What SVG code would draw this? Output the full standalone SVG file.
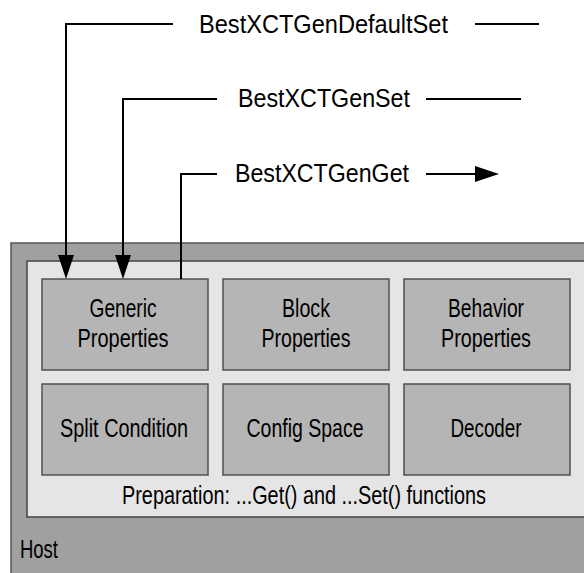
<svg xmlns="http://www.w3.org/2000/svg" width="584" height="573" viewBox="0 0 584 573">
<style>
.lbl{font-family:"Liberation Sans",Arial,sans-serif;font-size:25px;fill:#000}
.nar{font-family:"Liberation Sans Narrow","Liberation Sans",Arial,sans-serif;font-size:25px;fill:#000}
.box{fill:#b5b5b5;stroke:#505050;stroke-width:1.5}
.wire{fill:none;stroke:#000;stroke-width:2}
</style>
<defs>
<marker id="arr" markerUnits="userSpaceOnUse" markerWidth="24" markerHeight="16" viewBox="0 0 24 16" refX="0" refY="8" orient="auto">
<path d="M0,0 L24,8 L0,16 z" fill="#000"/>
</marker>
</defs>
<rect width="584" height="573" fill="#fff"/>
<g id="host">
<rect x="11" y="243" width="590" height="345" fill="#a0a0a0" stroke="#555" stroke-width="1.5"/>
<text class="nar" x="20" y="558" textLength="38" lengthAdjust="spacingAndGlyphs">Host</text>
</g>
<g id="preparation">
<rect x="27" y="261" width="580" height="256" fill="#e5e5e5" stroke="#444" stroke-width="1.5"/>
<text class="nar" x="304" y="504" text-anchor="middle" textLength="364" lengthAdjust="spacingAndGlyphs">Preparation: ...Get() and ...Set() functions</text>
</g>
<g id="generic">
<rect class="box" x="42" y="279" width="166" height="91"/>
<text class="nar" x="123" y="317" text-anchor="middle" textLength="67" lengthAdjust="spacingAndGlyphs">Generic</text>
<text class="nar" x="123" y="347" text-anchor="middle" textLength="91" lengthAdjust="spacingAndGlyphs">Properties</text>
</g>
<g id="block">
<rect class="box" x="223" y="279" width="166" height="91"/>
<text class="nar" x="306" y="317" text-anchor="middle" textLength="48" lengthAdjust="spacingAndGlyphs">Block</text>
<text class="nar" x="306" y="347" text-anchor="middle" textLength="89" lengthAdjust="spacingAndGlyphs">Properties</text>
</g>
<g id="behavior">
<rect class="box" x="404" y="279" width="166" height="91"/>
<text class="nar" x="486" y="317" text-anchor="middle" textLength="76" lengthAdjust="spacingAndGlyphs">Behavior</text>
<text class="nar" x="486" y="347" text-anchor="middle" textLength="90" lengthAdjust="spacingAndGlyphs">Properties</text>
</g>
<g id="split">
<rect class="box" x="42" y="384" width="166" height="91"/>
<text class="nar" x="124" y="437" text-anchor="middle" textLength="128" lengthAdjust="spacingAndGlyphs">Split Condition</text>
</g>
<g id="config">
<rect class="box" x="223" y="384" width="166" height="91"/>
<text class="nar" x="305" y="437" text-anchor="middle" textLength="117" lengthAdjust="spacingAndGlyphs">Config Space</text>
</g>
<g id="decoder">
<rect class="box" x="404" y="384" width="166" height="91"/>
<text class="nar" x="486" y="437" text-anchor="middle" textLength="71" lengthAdjust="spacingAndGlyphs">Decoder</text>
</g>
<g id="connectors">
<path class="wire" d="M173,24 H66 V255" marker-end="url(#arr)"/>
<path class="wire" d="M475,24 H539"/>
<path class="wire" d="M217,99 H123 V255" marker-end="url(#arr)"/>
<path class="wire" d="M426,99 H521"/>
<path class="wire" d="M217,174 H181 V279"/>
<path class="wire" d="M426,174 H475" marker-end="url(#arr)"/>
<text class="lbl" x="199" y="33" textLength="249" lengthAdjust="spacingAndGlyphs">BestXCTGenDefaultSet</text>
<text class="lbl" x="238" y="107" textLength="172" lengthAdjust="spacingAndGlyphs">BestXCTGenSet</text>
<text class="lbl" x="235" y="182" textLength="174" lengthAdjust="spacingAndGlyphs">BestXCTGenGet</text>
</g>
</svg>
